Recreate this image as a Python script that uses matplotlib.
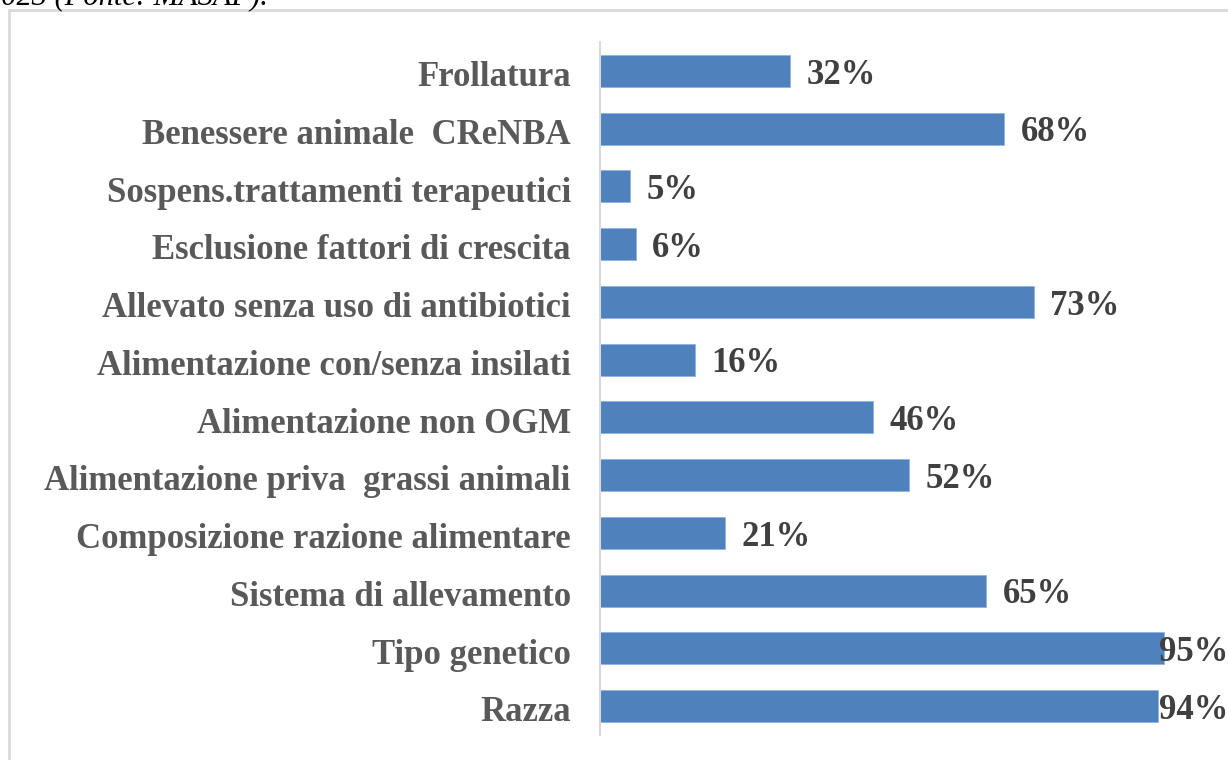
import matplotlib.pyplot as plt
import matplotlib.transforms as mtransforms
from matplotlib.patches import Rectangle

categories = ["Frollatura", "Benessere animale  CReNBA", "Sospens.trattamenti terapeutici",
              "Esclusione fattori di crescita", "Allevato senza uso di antibiotici",
              "Alimentazione con/senza insilati", "Alimentazione non OGM",
              "Alimentazione priva  grassi animali", "Composizione razione alimentare",
              "Sistema di allevamento", "Tipo genetico", "Razza"]
values = [32, 68, 5, 6, 73, 16, 46, 52, 21, 65, 95, 94]

plt.rcParams['font.family'] = ['Liberation Serif', 'DejaVu Serif']

fig = plt.figure(figsize=(12.28, 7.60), dpi=100)
ax = fig.add_axes([600/1228, 1-735/760, 628/1228, 693/760])

pos = list(range(len(categories)))
ax.barh(pos, values, height=0.55, color="#4f81bd", edgecolor="#8eb4e3", linewidth=0.6)
ax.set_ylim(len(categories)-0.5, -0.5)
ax.set_xlim(0, 105.7)

ax.set_yticks(pos)
ax.set_yticklabels(categories, fontsize=25, fontweight='bold', color="#595959")
ax.tick_params(axis='y', length=0, pad=21)
shift = mtransforms.ScaledTranslation(0, -2/72, fig.dpi_scale_trans)
for lab in ax.get_yticklabels():
    lab.set_transform(lab.get_transform() + shift)
ax.set_xticks([])
for s in ["top", "right", "bottom"]:
    ax.spines[s].set_visible(False)
ax.spines["left"].set_color("#d9d9d9")
ax.spines["left"].set_linewidth(1.5)

for p, v in zip(pos, values):
    if v > 90:
        t = ax.text(1.0, p, f"{v}%", transform=ax.get_yaxis_transform(), ha='right', va='center',
                    fontsize=25, fontweight='bold', color="#404040")
        t.set_transform(t.get_transform() + mtransforms.ScaledTranslation(0, -3/72, fig.dpi_scale_trans))
    else:
        ax.annotate(f"{v}%", (v, p), xytext=(12, -3), textcoords='offset points', ha='left',
                    va='center', fontsize=25, fontweight='bold', color="#404040")

# chart border box (partly out of frame)
fig.patches.append(Rectangle((9/1228, -0.2), 1.5, 1.2 - 10/760, transform=fig.transFigure,
                             fill=False, edgecolor="#d9d9d9", linewidth=2))

# caption line cut off at the top
fig.text(-14/1228, 1-4/760, "2023 (Fonte: MASAF).", fontsize=22, style='italic',
         color="#000000", va='baseline')

fig.savefig("out.png", dpi=100)
